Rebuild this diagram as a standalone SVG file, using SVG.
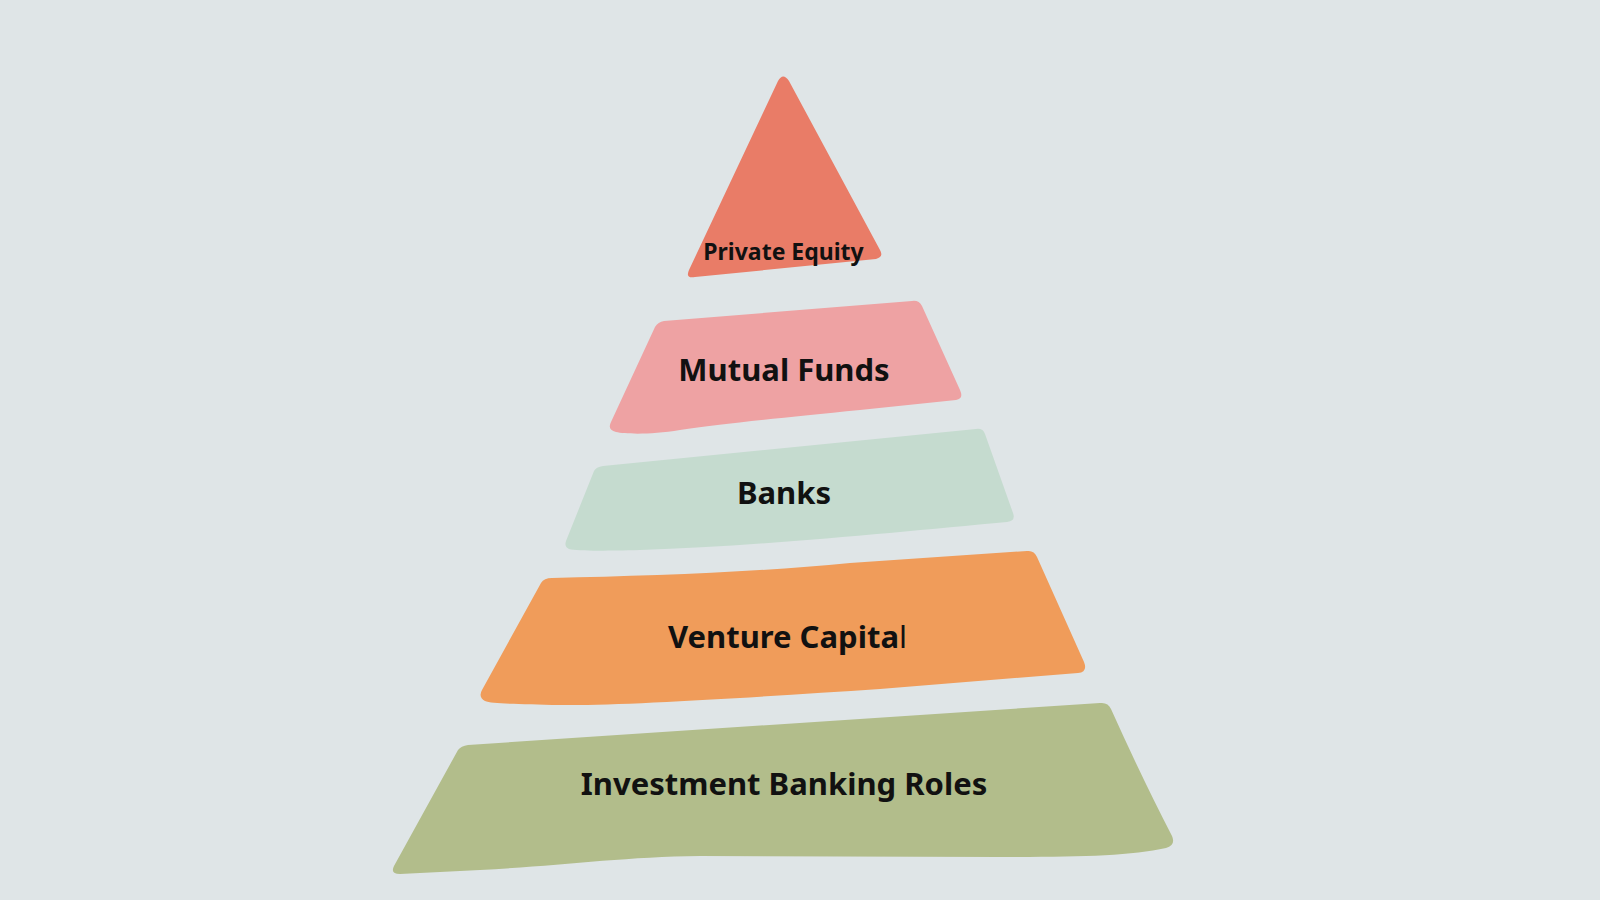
<svg xmlns="http://www.w3.org/2000/svg" width="1600" height="900" viewBox="0 0 1600 900">
  <style>
    .lbl { font-family: "Noto Sans", "Open Sans", "Liberation Sans", sans-serif; font-weight: 700; fill: #111111; text-anchor: middle; }
    .big { font-size: 31px; }
    .small { font-size: 23px; }
    .thin { font-weight: 400; }
  </style>
  <rect x="0" y="0" width="1600" height="900" fill="#DFE5E7"/>

  <g id="private-equity">
    <path d="M 778,81 Q 783,72 789,81 L 880,250 Q 884,257 876,259 L 695,277 Q 685,279 689,270 Z" fill="#E97C67"/>
    <text class="lbl small" x="783.5" y="260">Private Equity</text>
  </g>

  <g id="mutual-funds">
    <path d="M 664,321 L 912,301 Q 919,300 922,306 L 960,390 Q 964,399 956,400 L 860,410 C 780,418 720,424 680,430 C 650,435 625,434 616,432 Q 607,430 611,422 L 655,327 Q 658,322 664,321 Z" fill="#EEA2A3"/>
    <text class="lbl big" x="784" y="381">Mutual Funds</text>
  </g>

  <g id="banks">
    <path d="M 603,466 L 976,429 Q 983,428 985,434 L 1013,513 Q 1016,521 1007,522 C 900,532 760,546 640,550 C 600,551 578,551 569,549 Q 564,547 566,541 L 594,471 Q 596,467 603,466 Z" fill="#C5DBCF"/>
    <text class="lbl big" x="784" y="504">Banks</text>
  </g>

  <g id="venture-capital">
    <path d="M 552,578 C 650,576 760,572 850,563 L 1027,551 Q 1034,550 1037,557 L 1084,662 Q 1088,672 1078,673 L 880,689 C 760,697 620,706 560,705 C 520,704 492,704 485,701 Q 478,697 482,690 L 541,583 Q 544,578 552,578 Z" fill="#F09C5A"/>
    <text class="lbl big" x="787.5" y="648">Venture Capita<tspan class="thin">l</tspan></text>
  </g>

  <g id="investment-banking-roles">
    <path d="M 468,745 L 1100,703 Q 1108,702 1111,709 Q 1142,778 1172,836 Q 1176,845 1166,848 C 1130,856 1080,857 1000,857 L 700,856 C 620,857 560,866 480,870 L 400,874 Q 390,874 394,866 L 458,750 Q 461,746 468,745 Z" fill="#B2BD8B"/>
    <text class="lbl big" x="784" y="795">Investment Banking Roles</text>
  </g>
</svg>
